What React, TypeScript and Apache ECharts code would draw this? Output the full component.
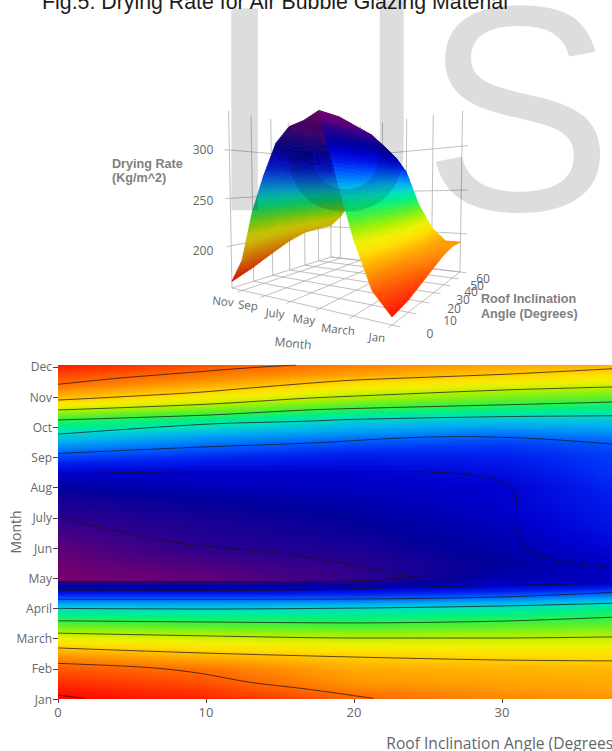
import React, { useEffect, useRef } from "react";
import * as echarts from "echarts";

// ---------- data ----------
const monthNames = ["Jan", "Feb", "March", "April", "May", "Jun", "July", "Aug", "Sep", "Oct", "Nov", "Dec"];

// colour scale: drying rate -> colour
const scaleZ = [158, 180, 195, 205, 212, 222, 235, 248, 258, 268, 280, 290, 300, 310, 320, 330, 340];
const scaleColors = ["#ff0000", "#ff6a00", "#ffb000", "#ffe000", "#f0f000", "#b0f000", "#50f030", "#00f080", "#00e0c0", "#00b0f0", "#0060ff", "#0020f0", "#0000d0", "#00009c", "#2a0090", "#600078", "#900060"];

// heat map table: month position (0 = Jan) by angle
const heatAngles = [0, 10, 20, 30, 40];
const heatMonths = [0, 0.5, 0.99, 1.49, 1.99, 2.48, 3.01, 3.31, 3.61, 3.77, 3.88, 3.94, 4.44, 5, 5.6, 6.03, 6.59, 6.99, 7.48, 8.08, 8.48, 8.77, 9.24, 9.57, 9.9, 10.43, 10.73, 11.06];
const heatZ = [
  [158, 165, 178, 186, 190],
  [167, 174, 189, 192, 194],
  [176, 182, 194, 196, 197],
  [192, 199, 203, 205, 206],
  [212, 216, 219, 219, 218],
  [235, 237, 239, 236, 233],
  [260, 262, 260, 257, 247],
  [280, 280, 280, 275, 267],
  [301, 301, 298, 293, 285],
  [313, 312, 310, 301, 296],
  [320, 320, 318, 302, 301],
  [336, 331, 322, 306, 302],
  [332, 326, 320, 310, 299],
  [329, 320, 316, 307, 295],
  [324, 317, 312, 304, 292],
  [320, 315, 310, 302, 290],
  [315, 310, 306, 300, 288],
  [310, 305, 303, 300, 286],
  [300, 300, 300, 296, 284],
  [282, 287, 291, 290, 284],
  [269, 276, 282, 285, 280],
  [260, 268, 273, 277, 273],
  [240, 249, 261, 264, 263],
  [220, 230, 242, 248, 252],
  [200, 213, 225, 233, 238],
  [180, 192, 205, 212, 217],
  [172, 183, 192, 201, 207],
  [163, 174, 184, 192, 196],
];

// contour lines: [angle, month position]
const contourLines = [
  [[0, 0.13], [1.8, 0.02]],
  [[0, 1.18], [4, 1.1], [6.7, 1.02], [9.6, 0.85], [13, 0.55], [16.8, 0.33], [21.3, 0.02]],
  [[0, 1.69], [10, 1.52], [20, 1.39], [30, 1.29], [38, 1.26]],
  [[0, 2.18], [10, 2.09], [20, 2.02], [30, 2.02], [38, 2.06]],
  [[0, 2.59], [10, 2.55], [20, 2.52], [30, 2.58], [38, 2.72]],
  [[0, 3.0], [10, 2.98], [20, 3.01], [30, 3.08], [38, 3.18]],
  [[0, 3.3], [10, 3.3], [20, 3.31], [30, 3.38], [38, 3.54]],
  [[0, 3.59], [10, 3.59], [16.8, 3.61], [23.5, 3.7], [38, 3.83]],
  [[0, 7.45], [10, 7.53], [16.8, 7.53], [23.5, 7.53], [26.9, 7.47], [29.3, 7.31], [30.6, 7.03], [31, 6.65], [30.9, 6.09], [31.1, 5.38], [31.6, 4.99], [32.7, 4.71], [35, 4.49], [38, 4.32]],
  [[0, 6.04], [2.8, 5.7], [6.2, 5.32], [9.6, 5.08], [13, 4.93], [16.8, 4.71], [20.1, 4.41], [24.3, 4.03]],
  [[24.3, 4.03], [21.3, 3.94], [16.8, 3.88], [0, 3.88]],
  [[0, 8.13], [10, 8.35], [16.8, 8.47], [23.5, 8.65], [27.4, 8.69], [32.7, 8.61], [38, 8.42]],
  [[0, 8.77], [10, 9.1], [16.8, 9.2], [20, 9.26], [30, 9.35], [38, 9.38]],
  [[0, 9.24], [10, 9.4], [16.8, 9.57], [20, 9.62], [30, 9.74], [38, 9.84]],
  [[0, 9.57], [10, 9.76], [16.8, 9.96], [20, 10.03], [30, 10.23], [38, 10.34]],
  [[0, 9.9], [4, 10.0], [9.6, 10.16], [13, 10.3], [16.8, 10.45], [20, 10.56], [30, 10.75], [38, 10.95]],
  [[0, 10.42], [4, 10.62], [9.6, 10.84], [13, 10.97], [16.1, 11.06]],
];

// 3-D surface table: one row per month, one column per angle
const surfaceAngles = [0, 10, 20, 30, 40, 50, 60];
const surfaceZ = [
  [161, 165, 172, 179, 186, 190, 190],
  [178, 182, 188, 192, 193, 192, 190],
  [217, 218, 219, 218, 215, 210, 205],
  [268, 266, 262, 257, 250, 242, 233],
  [322, 321, 316, 311, 301, 290, 274],
  [316, 316, 314, 308, 296, 282, 270],
  [313, 314, 312, 305, 292, 278, 266],
  [300, 304, 304, 300, 288, 272, 260],
  [271, 282, 288, 288, 280, 265, 250],
  [236, 250, 262, 268, 265, 250, 235],
  [186, 205, 222, 230, 232, 225, 215],
  [162, 171, 182, 192, 199, 201, 202],
];
const zTicks = [200, 250, 300];
const monthTicks3d = [0, 2, 4, 6, 8, 10];
const angleTicks3d = [0, 10, 20, 30, 40, 50, 60];

const monthTickLabels3d = ["Nov", "Sep", "July", "May", "March", "Jan"];
const angleTickLabels3d = ["0", "10", "20", "30", "40", "50", "60"];
const zTickLabels3d = ["300", "250", "200"];

// ---------- colour helpers ----------
const hexToRgb = (h: string) => [parseInt(h.slice(1, 3), 16), parseInt(h.slice(3, 5), 16), parseInt(h.slice(5, 7), 16)];
const scaleRgb = scaleColors.map(hexToRgb);
function rgbOf(z: number): number[] {
  if (z <= scaleZ[0]) return scaleRgb[0];
  for (let i = 1; i < scaleZ.length; i++) {
    if (z <= scaleZ[i]) {
      const t = (z - scaleZ[i - 1]) / (scaleZ[i] - scaleZ[i - 1]);
      const a = scaleRgb[i - 1];
      const b = scaleRgb[i];
      return [a[0] + (b[0] - a[0]) * t, a[1] + (b[1] - a[1]) * t, a[2] + (b[2] - a[2]) * t];
    }
  }
  return scaleRgb[scaleRgb.length - 1];
}
function colorOf(z: number, k = 1) {
  const c = rgbOf(z);
  return `rgb(${Math.round(c[0] * k)},${Math.round(c[1] * k)},${Math.round(c[2] * k)})`;
}

// ---------- 3-D camera calibrated on the box corners of the picture ----------
const FLOOR = { A: [392, 325], B: [232, 288], D: [331, 257], C: [460, 272] };
const Z_FLOOR = 155;
const Z_TOP = 340;
const VANISH = [357, 6812];
const ax = FLOOR.A[0], ay = FLOOR.A[1];
const bx = FLOOR.B[0], by = FLOOR.B[1];
const cx = FLOOR.C[0], cy = FLOOR.C[1];
const dx = FLOOR.D[0], dy = FLOOR.D[1];
const dx1 = bx - dx, dx2 = cx - dx, sx = ax - bx + dx - cx;
const dy1 = by - dy, dy2 = cy - dy, sy = ay - by + dy - cy;
const den = dx1 * dy2 - dx2 * dy1;
const hg = (sx * dy2 - dx2 * sy) / den;
const hh = (dx1 * sy - sx * dy1) / den;
const ha = bx - ax + hg * bx, hb = cx - ax + hh * cx;
const hd = by - ay + hg * by, he = cy - ay + hh * cy;
const lambda = (((150 - by) / (VANISH[1] - 150)) * (hg + 1)) / (300 - Z_FLOOR);

function project(m: number, a: number, z: number): number[] {
  const u = m / 11;
  const v = a / 60;
  const t = lambda * (z - Z_FLOOR);
  const w = hg * u + hh * v + 1 + t;
  return [(ha * u + hb * v + ax + t * VANISH[0]) / w, (hd * u + he * v + ay + t * VANISH[1]) / w];
}

// surface cells, far ones first
const surfaceCells: number[][] = [];
for (let i = surfaceZ.length - 2; i >= 0; i--) {
  for (let j = surfaceAngles.length - 2; j >= 0; j--) surfaceCells.push([i, j]);
}

// the upper part of the surface runs further along the colour scale than its height shows
function surfaceColorZ(z: number) {
  if (z <= 215) return z;
  if (z <= 253) return 215 + ((z - 215) * 47) / 38;
  return 262 + ((z - 253) * 74) / 69;
}

function renderCell(_p: any, api: any) {
  const i = api.value(0);
  const j = api.value(1);
  const z00 = surfaceZ[i][j], z01 = surfaceZ[i][j + 1], z10 = surfaceZ[i + 1][j], z11 = surfaceZ[i + 1][j + 1];
  const a0 = surfaceAngles[j], a1 = surfaceAngles[j + 1];
  const NM = 16, NA = 6;
  const shade = i >= 4 ? 0.8 : 1;
  const children: any[] = [];
  const zAt = (s: number, t: number) => z00 * (1 - s) * (1 - t) + z10 * s * (1 - t) + z01 * (1 - s) * t + z11 * s * t;
  const pt = (s: number, t: number) => project(i + s, a0 + (a1 - a0) * t, zAt(s, t));
  for (let p = NM - 1; p >= 0; p--) {
    for (let q = NA - 1; q >= 0; q--) {
      const s0 = p / NM, s1 = (p + 1) / NM, t0 = q / NA, t1 = (q + 1) / NA;
      const c = colorOf(surfaceColorZ(zAt((s0 + s1) / 2, (t0 + t1) / 2)), shade);
      children.push({
        type: "polygon",
        shape: { points: [pt(s0, t0), pt(s1, t0), pt(s1, t1), pt(s0, t1)] },
        style: { fill: c, stroke: c, lineWidth: 0.6 },
      });
    }
  }
  return { type: "group", children };
}

// 3-D grid lines on floor and walls: [m1, a1, z1, m2, a2, z2]
const boxLines: number[][] = [];
monthTicks3d.forEach((m) => {
  boxLines.push([m, -2, Z_FLOOR, m, 60, Z_FLOOR]);
  boxLines.push([m, 60, Z_FLOOR, m, 60, Z_TOP]);
});
angleTicks3d.forEach((a) => {
  boxLines.push([-0.4, a, Z_FLOOR, 11, a, Z_FLOOR]);
  boxLines.push([11, a, Z_FLOOR, 11, a, Z_TOP]);
});
boxLines.push([11, 0, Z_FLOOR, 11, 60, Z_FLOOR]);
boxLines.push([0, 60, Z_FLOOR, 11, 60, Z_FLOOR]);
zTicks.forEach((z) => {
  boxLines.push([11, -2, z, 11, 60, z]);
  boxLines.push([-0.4, 60, z, 11, 60, z]);
});

function renderBoxLine(_p: any, api: any) {
  const s = project(api.value(0), api.value(1), api.value(2));
  const e = project(api.value(3), api.value(4), api.value(5));
  return {
    type: "line",
    shape: { x1: s[0], y1: s[1], x2: e[0], y2: e[1] },
    style: { stroke: "rgba(175,175,175,0.8)", lineWidth: 1 },
  };
}

// heat map: one band between two table rows, filled pixel row by pixel row
function renderBand(_p: any, api: any) {
  const i = api.value(2);
  const m0 = heatMonths[i], m1 = heatMonths[i + 1];
  const y0 = api.coord([0, m0])[1];
  const y1 = api.coord([0, m1])[1];
  const x0 = api.coord([heatAngles[0], 0])[0];
  const x1 = api.coord([heatAngles[heatAngles.length - 1], 0])[0];
  const children: any[] = [];
  for (let py = Math.round(y1); py < Math.round(y0); py++) {
    const f = (y0 - (py + 0.5)) / (y0 - y1);
    const stops: any[] = [];
    const segs = heatAngles.length - 1;
    const per = 4;
    for (let k = 0; k <= segs * per; k++) {
      const c = Math.min(Math.floor(k / per), segs - 1);
      const g = k / per - c;
      const zLow = heatZ[i][c] * (1 - g) + heatZ[i][c + 1] * g;
      const zHigh = heatZ[i + 1][c] * (1 - g) + heatZ[i + 1][c + 1] * g;
      stops.push({ offset: k / (segs * per), color: colorOf(zLow * (1 - f) + zHigh * f) });
    }
    children.push({
      type: "rect",
      shape: { x: x0, y: py, width: x1 - x0, height: 1 },
      style: { fill: { type: "linear", x: 0, y: 0, x2: 1, y2: 0, global: false, colorStops: stops } },
    });
  }
  return { type: "group", children };
}

const labelGrey = "#666";
const boldGrey = "#808080";
const sans = "'Open Sans'";
const arial = "'Liberation Sans'";
const markGrey = "rgba(0,0,0,0.135)";

function txt(text: string, x: number, y: number, style: any, rotation = 0, z = 20, extra: any = {}) {
  return {
    type: "text",
    x,
    y,
    rotation,
    z,
    silent: true,
    ...extra,
    style: { text, fill: labelGrey, fontFamily: sans, fontSize: 12, align: "center", verticalAlign: "middle", ...style },
  };
}

const monthLabelPlaces = [[223, 301], [248, 305], [275, 313], [304, 319], [338, 329], [377, 337]];
const angleLabelPlaces = [[430, 333], [450, 320], [454, 308], [463, 299], [471, 291], [477, 285], [483, 278]];
const zLabelPlaces = [[203, 149], [203, 200], [203, 250]];

export default function App() {
  const ref = useRef<HTMLDivElement>(null);
  useEffect(() => {
    const chart = echarts.init(ref.current!, null, { renderer: "svg" });
    const monthTicks = monthNames.map((_, i) => i);
    chart.setOption({
      animation: false,
      backgroundColor: "#fff",
      grid: { left: 58, top: 365, width: 888, height: 334, containLabel: false, outerBoundsMode: "none" },
      xAxis: {
        type: "value",
        min: 0,
        max: 60,
        interval: 10,
        name: "Roof Inclination Angle (Degrees)",
        nameLocation: "middle",
        nameGap: 36,
        nameTextStyle: { color: labelGrey, fontFamily: sans, fontSize: 15.6 },
        axisLine: { show: false },
        axisTick: { show: true, length: 4, lineStyle: { color: "#444" } },
        splitLine: { show: false },
        axisLabel: { color: labelGrey, fontFamily: sans, fontSize: 13, margin: 6 },
      },
      yAxis: {
        type: "value",
        min: 0,
        max: 11.06,
        axisLine: { show: false },
        axisTick: { show: true, length: 5, customValues: monthTicks, lineStyle: { color: "#444" } },
        splitLine: { show: false },
        axisLabel: {
          color: labelGrey,
          fontFamily: sans,
          fontSize: 12,
          margin: 6,
          customValues: monthTicks,
          formatter: (v: number) => monthNames[Math.round(v)] ?? "",
        },
      },
      series: [
        {
          type: "custom",
          coordinateSystem: "cartesian2d",
          renderItem: renderBand,
          silent: true,
          clip: true,
          encode: { x: 0, y: 1 },
          data: heatMonths.slice(0, -1).map((m, i) => [0, m, i]),
          z: 1,
        },
        ...contourLines.map((line) => ({
          type: "line",
          data: line,
          smooth: 0.3,
          showSymbol: false,
          silent: true,
          lineStyle: { color: "rgba(20,20,20,0.8)", width: 0.9 },
          z: 3,
        })),
        {
          type: "custom",
          coordinateSystem: "none",
          renderItem: renderBoxLine,
          silent: true,
          data: boxLines,
          z: 4,
        },
        {
          type: "custom",
          coordinateSystem: "none",
          renderItem: renderCell,
          silent: true,
          data: surfaceCells,
          z: 5,
        },
      ],
      graphic: [
        txt("Fig.5: Drying Rate for Air Bubble Glazing Material", 42, 12, { fontFamily: arial, fontSize: 21.33, fill: "#1c1c1c", align: "left", verticalAlign: "bottom" }, 0, 30),
        txt("Month", 15, 532, { fontSize: 14 }, Math.PI / 2),
        txt("Drying Rate", 112, 164, { fontFamily: arial, fontWeight: "bold", fontSize: 12.6, fill: boldGrey, align: "left" }),
        txt("(Kg/m^2)", 112, 178, { fontFamily: arial, fontWeight: "bold", fontSize: 12.6, fill: boldGrey, align: "left" }),
        txt("Roof Inclination", 481, 299, { fontFamily: arial, fontWeight: "bold", fontSize: 12.6, fill: boldGrey, align: "left" }),
        txt("Angle (Degrees)", 481, 314, { fontFamily: arial, fontWeight: "bold", fontSize: 12.6, fill: boldGrey, align: "left" }),
        txt("Month", 293, 343, { fontSize: 12 }, -0.1),
        ...monthTickLabels3d.map((t, i) => txt(t, monthLabelPlaces[i][0], monthLabelPlaces[i][1], { fontSize: 11.5 }, -0.1)),
        ...angleTickLabels3d.map((t, i) => txt(t, angleLabelPlaces[i][0], angleLabelPlaces[i][1], { fontSize: 12 })),
        ...zTickLabels3d.map((t, i) => txt(t, zLabelPlaces[i][0], zLabelPlaces[i][1], { fontSize: 12 })),
        txt("I", 205, 255, { fontFamily: arial, fontSize: 285, fill: markGrey, align: "left", verticalAlign: "bottom" }, 0, 50, { scaleY: 1.03 }),
        txt("J", 282, 255, { fontFamily: "Roboto", fontSize: 285, fill: markGrey, align: "left", verticalAlign: "bottom" }, 0, 50, { scaleX: 0.9, scaleY: 1.03 }),
        txt("S", 423, 255, { fontFamily: arial, fontSize: 285, fill: markGrey, align: "left", verticalAlign: "bottom" }, 0, 50, { scaleY: 1.03 }),
      ],
    });
    return () => chart.dispose();
  }, []);
  return <div ref={ref} style={{ position: "absolute", left: 0, top: 0, width: 612, height: 751, overflow: "hidden" }} />;
}
